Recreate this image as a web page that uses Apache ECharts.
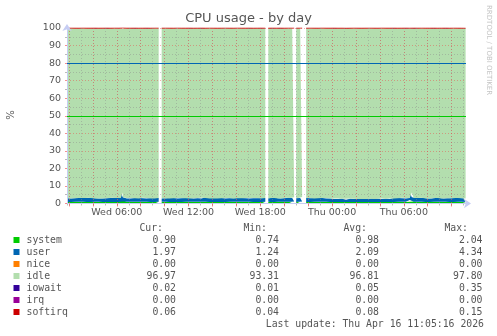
<!DOCTYPE html>
<html><head><meta charset="utf-8">
<script src="https://cdn.jsdelivr.net/npm/echarts@6/dist/echarts.min.js"></script>
<style>html,body{margin:0;padding:0;background:#fff}#c{width:497px;height:336px}</style>
</head><body><div id="c"></div>
<script>
// ---- data ----
const segStarts = ['2026-04-15T01:50','2026-04-15T09:45','2026-04-15T18:40','2026-04-15T21:00','2026-04-15T21:50'];
const segCounts = [47,53,14,4,81];
const sampleMinutes = 10;

const sysVals = [
 1.0,0.9,1.0,0.9,1.0,1.0,0.9,1.0,0.9,1.0, 1.0,0.9,1.0,0.9,0.9,1.0,0.9,1.0,1.0,0.9, 1.0,0.9,1.0,0.9,1.0,0.9,1.0,0.9,2.0,1.1, 0.9,1.0,0.9,1.0,0.9,1.0,0.9,1.0,0.9,1.0, 0.9,1.0,1.0,0.9,1.0,0.9,1.0,
 0.9,1.0,0.9,1.0,1.0,0.9,1.0,0.9,1.0,0.9, 1.0,0.9,1.0,1.0,0.9,1.0,0.9,1.0,0.9,1.0, 0.9,1.0,0.9,1.0,1.0,0.9,1.0,0.9,1.0,0.9, 1.0,0.9,1.0,0.9,1.0,1.0,0.9,1.0,0.9,1.0, 0.9,1.0,0.9,1.0,0.9,1.0,1.0,0.9,1.0,0.9, 1.0,0.9,1.0,
 0.9,1.0,0.9,1.0,0.9,1.0,1.0,0.9,1.0,0.9,1.0,0.9,1.0,1.1,
 1.0,0.9,1.0,1.1,
 1.0,0.9,1.0,0.9,1.0,1.0,0.9,1.0,0.9,1.0, 0.9,1.0,0.9,0.9,0.8,0.9,0.8,0.9,0.9,0.8, 0.9,0.8,0.9,0.9,0.8,0.9,0.8,0.9,0.9,0.8, 0.9,0.8,0.9,0.8,0.9,0.9,0.8,0.9,0.8,0.9, 0.9,0.8,0.9,0.9,1.0,0.9,1.0,1.0,0.9,1.0, 0.9,1.0,1.0,2.0,1.1,1.0,0.9,1.0,0.9,1.0, 1.0,0.9,1.0,0.9,1.0,1.0,0.9,1.0,0.9,1.0, 0.9,1.0,1.0,0.9,1.0,0.9,1.0,1.0,0.9,1.0,0.90
];
const userVals = [
 2.1,2.2,1.9,2.3,2.0,2.1,2.3,1.9,2.2,2.0, 2.2,2.0,2.3,1.9,2.1,2.2,2.0,2.3,1.9,2.1, 2.0,2.2,2.1,2.0,2.3,1.9,2.1,2.2,4.3,2.4, 2.0,2.2,1.9,2.1,2.3,2.0,2.2,1.9,2.1,2.3, 2.0,2.1,2.2,1.9,2.3,2.0,2.1,
 2.0,2.2,2.1,1.9,2.3,2.0,2.2,2.1,1.9,2.2, 2.0,2.3,2.1,2.0,2.2,1.9,2.0,2.0,2.1,2.2, 1.9,2.3,2.6,2.1,2.2,2.0,2.3,1.9,2.1,2.0, 2.2,2.1,1.9,2.3,2.0,2.2,2.1,1.9,2.2,2.0, 2.3,2.0,2.1,2.2,1.9,2.1,2.0,2.3,2.0,2.2, 2.1,1.9,2.2,
 2.1,1.9,2.2,2.0,2.3,2.1,1.9,2.2,2.0,2.1,2.3,2.0,2.2,2.5,
 2.0,2.2,2.1,2.6,
 2.1,2.3,2.0,2.2,2.1,1.9,2.3,2.0,2.2,2.1, 2.0,2.2,1.9,2.0,1.8,2.0,1.7,1.9,1.8,1.9, 1.3,1.9,1.8,2.0,1.7,1.8,1.9,1.7,2.0,1.8, 1.9,1.7,1.8,1.9,2.0,1.7,1.9,1.8,1.7,2.0, 1.8,1.9,1.7,2.0,2.1,1.9,2.2,2.0,2.1,2.3, 2.0,2.2,2.1,4.3,2.4,2.1,2.0,2.2,1.9,2.3, 2.1,2.0,2.2,1.9,2.3,2.1,2.0,2.2,2.1,1.9, 2.2,2.0,2.3,2.1,1.9,2.2,2.0,2.1,2.3,2.0,1.97
];
const idleVals = [
 96.77,96.77,96.97,96.67,96.87,96.77,96.67,96.97,96.77,96.87, 96.67,96.97,96.57,97.07,96.87,96.67,96.97,96.57,96.97,96.87, 96.87,96.77,96.77,96.97,96.57,97.07,96.77,96.77,93.31,96.37, 96.97,96.67,97.07,96.77,96.67,96.87,96.77,96.97,96.87,96.57, 96.97,96.77,96.67,97.07,96.57,96.97,96.77,
 96.97,96.67,96.87,96.97,96.57,96.97,96.67,96.87,96.97,96.77, 96.87,96.67,96.77,96.87,96.77,96.97,96.97,96.87,96.87,96.67, 97.07,96.57,96.37,96.77,96.67,96.97,96.57,97.07,96.77,96.97, 96.67,96.87,96.97,96.67,96.87,96.67,96.87,96.97,96.77,96.87, 96.67,96.87,96.87,96.67,97.07,96.77,96.87,96.67,96.87,96.77, 96.77,97.07,96.67,
 96.87,96.97,96.77,96.87,96.67,96.77,96.97,96.77,96.87,96.87,96.57,96.97,96.67,96.27,
 96.87,96.77,96.77,96.17,
 96.77,96.67,96.87,96.77,96.77,96.97,96.67,96.87,96.77,96.77, 96.97,96.67,97.07,96.97,97.27,96.97,97.37,97.07,97.17,97.17, 97.67,97.17,97.17,96.97,97.37,97.17,97.17,97.27,96.97,97.27, 97.07,97.37,97.17,97.17,96.97,97.27,97.17,97.17,97.37,96.97, 97.17,97.17,97.27,96.97,96.77,97.07,96.67,96.87,96.87,96.57, 96.97,96.67,96.77,93.57,96.37,96.77,96.97,96.67,97.07,96.57, 96.77,96.97,96.67,97.07,96.57,96.77,96.97,96.67,96.87,96.97, 96.77,96.87,96.57,96.87,96.97,96.77,96.87,96.77,96.67,96.87,96.97
];
const iowaitVals = [
 0.05,0.04,0.05,0.06,0.05,0.05,0.04,0.05,0.05,0.06, 0.05,0.04,0.05,0.05,0.06,0.05,0.04,0.05,0.05,0.05, 0.06,0.05,0.04,0.05,0.05,0.06,0.05,0.05,0.31,0.08, 0.05,0.04,0.05,0.05,0.06,0.05,0.04,0.05,0.05,0.05, 0.06,0.05,0.04,0.05,0.05,0.06,0.05,
 0.05,0.04,0.05,0.06,0.05,0.05,0.04,0.05,0.05,0.06, 0.05,0.04,0.05,0.05,0.06,0.05,0.04,0.05,0.05,0.05, 0.06,0.05,0.04,0.05,0.05,0.06,0.05,0.05,0.04,0.05, 0.05,0.04,0.05,0.06,0.05,0.05,0.04,0.05,0.05,0.06, 0.05,0.04,0.05,0.05,0.06,0.05,0.04,0.05,0.05,0.05, 0.06,0.05,0.04,
 0.05,0.05,0.06,0.04,0.05,0.05,0.06,0.05,0.04,0.05,0.05,0.06,0.05,0.05,
 0.05,0.04,0.05,0.06,
 0.05,0.04,0.05,0.06,0.05,0.05,0.04,0.05,0.05,0.06, 0.05,0.04,0.05,0.05,0.06,0.05,0.04,0.05,0.05,0.05, 0.02,0.05,0.04,0.05,0.05,0.06,0.05,0.05,0.04,0.05, 0.05,0.04,0.05,0.06,0.05,0.05,0.04,0.05,0.05,0.06, 0.05,0.04,0.05,0.05,0.06,0.05,0.04,0.05,0.05,0.05, 0.06,0.05,0.04,0.09,0.06,0.05,0.05,0.04,0.05,0.06, 0.05,0.04,0.05,0.05,0.06,0.05,0.04,0.05,0.05,0.05, 0.06,0.05,0.04,0.05,0.05,0.06,0.05,0.05,0.04,0.05,0.02
];
const softirqVals = [
 0.08,0.07,0.08,0.09,0.08,0.08,0.07,0.08,0.09,0.08, 0.08,0.07,0.08,0.08,0.09,0.08,0.07,0.08,0.08,0.08, 0.09,0.08,0.07,0.08,0.08,0.09,0.08,0.08,0.15,0.09, 0.08,0.07,0.08,0.08,0.09,0.08,0.07,0.08,0.08,0.08, 0.09,0.08,0.07,0.08,0.08,0.09,0.08,
 0.08,0.07,0.08,0.09,0.08,0.08,0.07,0.08,0.09,0.08, 0.08,0.07,0.08,0.08,0.09,0.08,0.07,0.08,0.08,0.08, 0.09,0.08,0.07,0.08,0.08,0.09,0.08,0.08,0.07,0.08, 0.08,0.07,0.08,0.09,0.08,0.08,0.07,0.08,0.09,0.08, 0.08,0.07,0.08,0.08,0.09,0.08,0.07,0.08,0.08,0.08, 0.09,0.08,0.07,
 0.08,0.08,0.09,0.07,0.08,0.08,0.09,0.08,0.07,0.08,0.08,0.09,0.08,0.08,
 0.08,0.07,0.08,0.09,
 0.08,0.07,0.08,0.09,0.08,0.08,0.07,0.08,0.09,0.08, 0.08,0.07,0.08,0.08,0.09,0.08,0.07,0.08,0.08,0.08, 0.04,0.08,0.07,0.08,0.08,0.09,0.08,0.08,0.07,0.08, 0.08,0.07,0.08,0.09,0.08,0.08,0.07,0.08,0.09,0.08, 0.08,0.07,0.08,0.08,0.09,0.08,0.07,0.08,0.08,0.08, 0.09,0.08,0.07,0.12,0.09,0.08,0.08,0.07,0.08,0.09, 0.08,0.07,0.08,0.08,0.09,0.08,0.07,0.08,0.08,0.08, 0.09,0.08,0.07,0.08,0.08,0.09,0.08,0.08,0.07,0.08,0.06
];

const xRange = ['2026-04-15T01:50','2026-04-16T11:12'];
const warnLevels = [80, 50];
const dayNames = ['Sun','Mon','Tue','Wed','Thu','Fri','Sat'];

const legendNames = ['system','user','nice','idle','iowait','irq','softirq'];
const curVals = ['0.90','1.97','0.00','96.97','0.02','0.00','0.06'];
const minVals = ['0.74','1.24','0.00','93.31','0.01','0.00','0.04'];
const avgVals = ['0.98','2.09','0.00','96.81','0.05','0.00','0.08'];
const maxVals = ['2.04','4.34','0.00','97.80','0.35','0.00','0.15'];
const colHeaders = ['Cur:','Min:','Avg:','Max:'];
const titleText = 'CPU usage - by day';
const lastUpdate = 'Last update: Thu Apr 16 11:05:16 2026';

// ---- styles ----
const COLORS = {system:'#00CC00', user:'#0066B3', nice:'#FF8000', idle:'#B3DEAE', iowait:'#330099', irq:'#990099', softirq:'#CC0000'};
const AXIS_COLOR = '#C6CDF3';
const TXT = '#555555';

function build(vals){
  const out = []; let idx = 0;
  segStarts.forEach((s, si) => {
    const t0 = Date.parse(s);
    if (si > 0) out.push([t0, null]);   // break marker placed at the start of the next segment
    for (let k = 0; k < segCounts[si]; k++) out.push([t0 + k*sampleMinutes*60000, vals[idx++]]);
  });
  return out;
}
function area(name, vals, withLine){
  const c = COLORS[name];
  return {
    type:'line', name, xAxisIndex:1, yAxisIndex:0, stack:'cpu', step:'start',
    symbol:'none', showSymbol:false, silent:true, z:1, connectNulls:false,
    data: build(vals),
    lineStyle: withLine ? {width:1, color:c} : {width:0},
    areaStyle: {color:c, opacity:1},
    itemStyle: {color:c}
  };
}
function warnLine(level, color){
  return {
    type:'line', xAxisIndex:1, yAxisIndex:0, data:[], silent:true, z:2,
    itemStyle:{color}, lineStyle:{color},
    markLine:{silent:true, symbol:['none','none'], label:{show:false}, animation:false,
      lineStyle:{color, width:1, type:'solid', opacity:1},
      emphasis:{disabled:true},
      data:[{yAxis:level}]}
  };
}

const series = [
  area('system', sysVals),
  area('user', userVals),
  area('idle', idleVals),
  area('iowait', iowaitVals),
  area('softirq', softirqVals, true),
  warnLine(warnLevels[0], COLORS.user),
  warnLine(warnLevels[1], COLORS.system)
];

function fmtTime(v){
  const d = new Date(v);
  if (d.getMinutes() !== 0 || d.getHours() % 6 !== 0) return '';
  return dayNames[d.getDay()] + ' ' + String(d.getHours()).padStart(2,'0') + ':00';
}

const MONO = '9.8px "DejaVu Sans Mono"';
const graphics = [];
const rowY0 = 240, rowStep = 12;
const colRight = [176, 279, 379, 482.5];
const headRight = [163, 267, 367, 468];
colHeaders.forEach((h,i) => graphics.push({type:'text', x:headRight[i], y:228, silent:true,
  style:{text:h, font:MONO, fill:TXT, align:'right', verticalAlign:'middle'}}));
legendNames.forEach((n,i) => {
  const y = rowY0 + i*rowStep;
  graphics.push({type:'rect', shape:{x:13.5, y:y-3, width:6, height:6}, silent:true, style:{fill:COLORS[n]}});
  graphics.push({type:'text', x:26.5, y, silent:true, style:{text:n, font:MONO, fill:TXT, align:'left', verticalAlign:'middle'}});
  [curVals, minVals, avgVals, maxVals].forEach((arr, j) => graphics.push({type:'text', x:colRight[j], y, silent:true,
    style:{text:arr[i], font:MONO, fill:TXT, align:'right', verticalAlign:'middle'}}));
});
graphics.push({type:'text', x:484, y:324.5, silent:true, style:{text:lastUpdate, font:MONO, fill:TXT, align:'right', verticalAlign:'middle'}});
graphics.push({type:'text', x:488.5, y:5, rotation:-Math.PI/2, silent:true,
  style:{text:'RRDTOOL / TOBI OETIKER', font:'7px "DejaVu Sans"', fill:'#C4C4C4', align:'left', verticalAlign:'middle'}});
graphics.push({type:'text', x:11, y:115, rotation:Math.PI/2, silent:true,
  style:{text:'%', font:'10px "DejaVu Sans"', fill:TXT, align:'center', verticalAlign:'middle'}});

const xMin = Date.parse(xRange[0]), xMax = Date.parse(xRange[1]);
const HOUR = 3600000;
const minorGrid = {color:'rgba(140,140,140,0.45)', width:1, type:[1,2]};
const majorGrid = {color:'rgba(235,70,70,0.45)', width:1, type:[1,2]};

const option = {
  animation:false,
  backgroundColor:'#ffffff',
  textStyle:{fontFamily:'DejaVu Sans'},
  title:{text:titleText, left:'center', top:12.5, padding:0,
    textStyle:{fontSize:13, fontWeight:'normal', color:TXT, fontFamily:'DejaVu Sans'}},
  grid:{left:67, top:28, width:399, height:175.5, containLabel:false},
  xAxis:[
    {type:'time', min:xMin, max:xMax, position:'bottom', z:3,
     minInterval:HOUR, maxInterval:HOUR,
     axisLine:{show:false}, axisLabel:{show:false},
     axisTick:{show:true, length:2, lineStyle:{color:'rgba(140,140,140,0.6)'}},
     splitLine:{show:true, showMinLine:false, showMaxLine:false, lineStyle:minorGrid}},
    {type:'time', min:xMin, max:xMax, position:'bottom', z:4,
     minInterval:3*HOUR, maxInterval:3*HOUR,
     axisLine:{show:true, lineStyle:{color:AXIS_COLOR, width:1}, symbol:['none','arrow'], symbolSize:[7,7], symbolOffset:[0,5]},
     axisTick:{show:true, length:3, lineStyle:{color:'rgba(235,70,70,0.6)'}},
     axisLabel:{show:true, formatter:fmtTime, fontSize:9.5, fontFamily:'DejaVu Sans', color:TXT, margin:4, hideOverlap:false},
     splitLine:{show:true, showMinLine:false, showMaxLine:false, lineStyle:majorGrid}}
  ],
  yAxis:{type:'value', min:0, max:100, interval:10, position:'left', z:4,
    axisLine:{show:true, lineStyle:{color:AXIS_COLOR, width:1}, symbol:['none','arrow'], symbolSize:[7,7], symbolOffset:[0,4]},
    axisTick:{show:true, length:2, lineStyle:{color:'rgba(235,70,70,0.6)'}},
    minorTick:{show:true, splitNumber:2, length:2, lineStyle:{color:'rgba(140,140,140,0.6)'}},
    axisLabel:{fontSize:9.5, fontFamily:'DejaVu Sans', color:TXT, margin:6},
    splitLine:{show:true, lineStyle:majorGrid},
    minorSplitLine:{show:true, lineStyle:minorGrid}},
  series,
  graphic: graphics
};
const chart = echarts.init(document.getElementById('c'), null, {renderer:'canvas'});
chart.setOption(option);
</script></body></html>
